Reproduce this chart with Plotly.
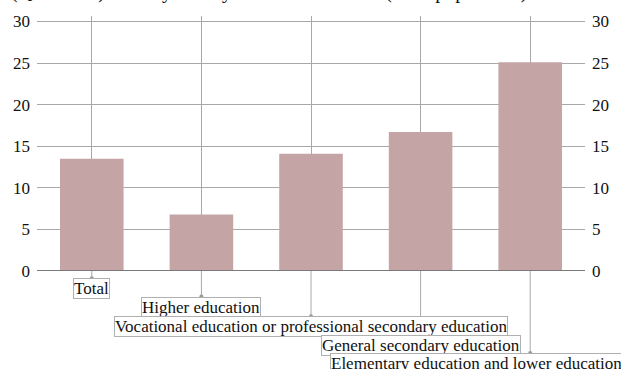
import plotly.graph_objects as go

categories = [
    "Total",
    "Higher education",
    "Vocational education or professional secondary education",
    "General secondary education",
    "Elementary education and lower education",
]
values = [13.5, 6.8, 14.1, 16.7, 25.1]
y_ticks = [0, 5, 10, 15, 20, 25, 30]

title_text = "(Quintile 1) Poverty rate by level of education (% of population)"

FONT = "Liberation Serif"
GRID = "#a8a8a8"
BAR = "#c4a4a4"

x = list(range(len(categories)))

fig = go.Figure()
fig.add_trace(go.Bar(x=x, y=values, width=0.58, marker=dict(color=BAR, line=dict(width=0)),
                     hoverinfo="skip", showlegend=False))
# invisible trace for the mirrored right axis
fig.add_trace(go.Scatter(x=x, y=values, yaxis="y2", mode="markers", marker=dict(opacity=0),
                         hoverinfo="skip", showlegend=False))

# staggered labels under the axis, each one a step lower (paper coords)
label_tops = [-0.028, -0.1, -0.177, -0.251, -0.322]
label_shift = [0, 0, 0, 0, -200]
label_anchor = ["center", "center", "center", "center", "left"]

shapes = [dict(type="line", xref="paper", yref="y", x0=0, x1=1, y0=0, y1=0,
               line=dict(color="#7a7a7a", width=2), layer="above")]
annotations = []
for i, (cat, top) in enumerate(zip(categories, label_tops)):
    shapes.append(dict(type="line", xref="x", yref="paper", x0=i, x1=i, y0=0, y1=top,
                       line=dict(color=GRID, width=1)))
    shapes.append(dict(type="circle", xref="x", yref="paper", xsizemode="pixel", ysizemode="pixel",
                       xanchor=i, yanchor=top, x0=-2, x1=2, y0=-2, y1=2,
                       fillcolor="#999999", line=dict(width=0)))
    annotations.append(dict(text=cat, xref="x", yref="paper", x=i, y=top, xanchor=label_anchor[i],
                            xshift=label_shift[i], yanchor="top", showarrow=False,
                            font=dict(family=FONT, size=17, color="#111111"),
                            bgcolor="white", bordercolor="#b0b0b0", borderwidth=1, borderpad=0))

# title sits mostly above the window, only its lower edge shows
annotations.append(dict(text=title_text, xref="paper", yref="paper", x=-0.052, y=1.045,
                        xanchor="left", yanchor="bottom", showarrow=False,
                        font=dict(family=FONT, size=20, color="#111111")))

fig.update_layout(
    width=621, height=369,
    margin=dict(l=37, r=24, t=13, b=98),
    paper_bgcolor="white", plot_bgcolor="white",
    font=dict(family=FONT, size=17, color="#111111"),
    xaxis=dict(range=[-0.5, 4.5], tickvals=x, showticklabels=False, showgrid=True,
               gridcolor=GRID, gridwidth=1, zeroline=False, ticks="", showline=False),
    yaxis=dict(range=[0, 30.65], tickvals=y_ticks, showgrid=True, gridcolor=GRID, zeroline=False,
               ticks="", ticklabelstandoff=6),
    yaxis2=dict(range=[0, 30.65], tickvals=y_ticks, overlaying="y", side="right", showgrid=False,
                zeroline=False, ticks="", ticklabelstandoff=6),
    shapes=shapes,
    annotations=annotations,
    bargap=0.42,
)

# drop the browser's default body margin so the figure sits at the window corner
fig.write_html("out.html", config={"displayModeBar": False},
               post_script="document.body.style.margin='0';")
